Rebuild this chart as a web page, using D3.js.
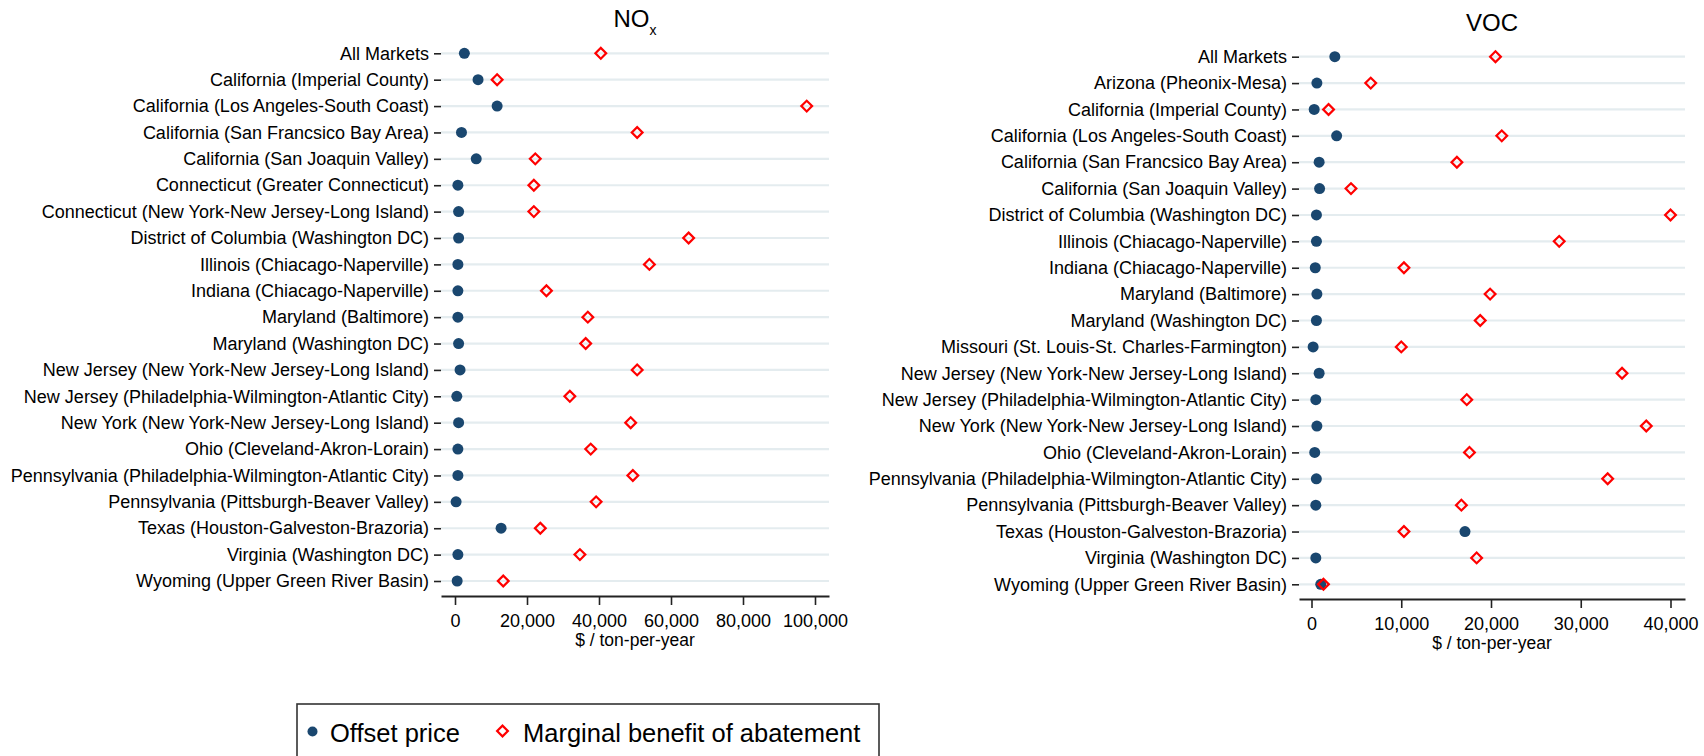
<!DOCTYPE html>
<html>
<head>
<meta charset="utf-8">
<script src="https://cdn.jsdelivr.net/npm/d3@7"></script>
<style>
  html, body { margin: 0; padding: 0; background: #fff; }
  svg { display: block; font-family: "Liberation Sans", Arial, Helvetica, sans-serif; }
</style>
</head>
<body>
<svg id="chart" width="1704" height="756"></svg>
<script>
// ---- NOx markets ----
const noxCategories = [
  "All Markets",
  "California (Imperial County)",
  "California (Los Angeles-South Coast)",
  "California (San Francsico Bay Area)",
  "California (San Joaquin Valley)",
  "Connecticut (Greater Connecticut)",
  "Connecticut (New York-New Jersey-Long Island)",
  "District of Columbia (Washington DC)",
  "Illinois (Chiacago-Naperville)",
  "Indiana (Chiacago-Naperville)",
  "Maryland (Baltimore)",
  "Maryland (Washington DC)",
  "New Jersey (New York-New Jersey-Long Island)",
  "New Jersey (Philadelphia-Wilmington-Atlantic City)",
  "New York (New York-New Jersey-Long Island)",
  "Ohio (Cleveland-Akron-Lorain)",
  "Pennsylvania (Philadelphia-Wilmington-Atlantic City)",
  "Pennsylvania (Pittsburgh-Beaver Valley)",
  "Texas (Houston-Galveston-Brazoria)",
  "Virginia (Washington DC)",
  "Wyoming (Upper Green River Basin)"
];
const noxOffsetPrice = [2600, 6400, 11700, 1800, 5900, 800, 1000, 1000, 800, 800, 800, 1000, 1400, 500, 1000, 800, 800, 300, 12800, 800, 600];
const noxMarginalBenefit = [40500, 11700, 97700, 50600, 22300, 21900, 21900, 64900, 54000, 25400, 36900, 36300, 50600, 31900, 48800, 37700, 49400, 39200, 23700, 34700, 13400];
const noxTicks = [0, 20000, 40000, 60000, 80000, 100000];

// ---- VOC markets ----
const vocCategories = [
  "All Markets",
  "Arizona (Pheonix-Mesa)",
  "California (Imperial County)",
  "California (Los Angeles-South Coast)",
  "California (San Francsico Bay Area)",
  "California (San Joaquin Valley)",
  "District of Columbia (Washington DC)",
  "Illinois (Chiacago-Naperville)",
  "Indiana (Chiacago-Naperville)",
  "Maryland (Baltimore)",
  "Maryland (Washington DC)",
  "Missouri (St. Louis-St. Charles-Farmington)",
  "New Jersey (New York-New Jersey-Long Island)",
  "New Jersey (Philadelphia-Wilmington-Atlantic City)",
  "New York (New York-New Jersey-Long Island)",
  "Ohio (Cleveland-Akron-Lorain)",
  "Pennsylvania (Philadelphia-Wilmington-Atlantic City)",
  "Pennsylvania (Pittsburgh-Beaver Valley)",
  "Texas (Houston-Galveston-Brazoria)",
  "Virginia (Washington DC)",
  "Wyoming (Upper Green River Basin)"
];
const vocOffsetPrice = [2600, 600, 300, 2800, 850, 900, 550, 550, 420, 600, 550, 180, 850, 480, 600, 360, 540, 480, 17100, 480, 1030];
const vocMarginalBenefit = [20500, 6600, 1900, 21200, 16200, 4400, 40000, 27600, 10300, 19900, 18800, 10000, 34600, 17300, 37300, 17600, 33000, 16700, 10300, 18400, 1330];
const vocTicks = [0, 10000, 20000, 30000, 40000];

const axisTitle = "$ / ton-per-year";
const legendLabels = ["Offset price", "Marginal benefit of abatement"];

const DOT_COLOR = "#1a476f";
const DIAMOND_COLOR = "#ff0000";
const GRID_COLOR = "#e4ecef";
const AXIS_COLOR = "#222";

const svg = d3.select("#chart");
const fmt = d3.format(",");
const diamondPath = d3.symbol(d3.symbolSquare, 58)();

function drawPanel(cfg) {
  const g = svg.append("g");
  const x = d3.scaleLinear().domain(cfg.xDomain).range([cfg.left, cfg.right]);
  const y = d3.scalePoint().domain(cfg.categories).range([cfg.top, cfg.bottom]);

  // horizontal gridlines, one per market
  g.append("g").selectAll("line")
    .data(cfg.categories)
    .join("line")
    .attr("x1", cfg.left).attr("x2", cfg.right)
    .attr("y1", d => y(d)).attr("y2", d => y(d))
    .attr("stroke", GRID_COLOR).attr("stroke-width", 2.2);

  // category axis
  const yAxis = g.append("g")
    .attr("transform", `translate(${cfg.left},0)`)
    .call(d3.axisLeft(y).tickSize(7).tickPadding(5));
  yAxis.select(".domain").remove();
  yAxis.selectAll(".tick line").attr("stroke", AXIS_COLOR).attr("stroke-width", 1.6);
  yAxis.selectAll(".tick text")
    .attr("font-family", "Liberation Sans, Arial, sans-serif")
    .attr("font-size", 18).attr("fill", "#000");

  // value axis
  const xAxis = g.append("g")
    .attr("transform", `translate(0,${cfg.axisY})`)
    .call(d3.axisBottom(x).tickValues(cfg.ticks).tickFormat(fmt)
      .tickSize(9).tickSizeOuter(0).tickPadding(9));
  xAxis.select(".domain").attr("stroke", AXIS_COLOR).attr("stroke-width", 1.8);
  xAxis.selectAll(".tick line").attr("stroke", AXIS_COLOR).attr("stroke-width", 1.6);
  xAxis.selectAll(".tick text")
    .attr("font-family", "Liberation Sans, Arial, sans-serif")
    .attr("font-size", 18).attr("fill", "#000");

  g.append("text")
    .attr("x", (cfg.left + cfg.right) / 2)
    .attr("y", cfg.axisY + 50)
    .attr("text-anchor", "middle")
    .attr("font-size", 17.5)
    .text(axisTitle);

  // offset prices
  g.append("g").selectAll("circle")
    .data(cfg.categories)
    .join("circle")
    .attr("cx", (d, i) => x(cfg.offset[i]))
    .attr("cy", d => y(d))
    .attr("r", 5.5)
    .attr("fill", DOT_COLOR);

  // marginal benefits
  g.append("g").selectAll("path")
    .data(cfg.categories)
    .join("path")
    .attr("d", diamondPath)
    .attr("transform", (d, i) => `translate(${x(cfg.benefit[i])},${y(d)}) rotate(45)`)
    .attr("fill", "none")
    .attr("stroke", DIAMOND_COLOR)
    .attr("stroke-width", 2.2);

  return g;
}

// NOx panel
const nox = drawPanel({
  categories: noxCategories,
  offset: noxOffsetPrice,
  benefit: noxMarginalBenefit,
  ticks: noxTicks,
  xDomain: [-3890, 103890],
  left: 441, right: 829,
  top: 53.3, bottom: 581,
  axisY: 596
});
const noxTitle = nox.append("text")
  .attr("x", 635).attr("y", 26.8)
  .attr("text-anchor", "middle")
  .attr("font-size", 24);
noxTitle.append("tspan").text("NO");
noxTitle.append("tspan").attr("font-size", 14).attr("dy", 8).text("x");

// VOC panel
const voc = drawPanel({
  categories: vocCategories,
  offset: vocOffsetPrice,
  benefit: vocMarginalBenefit,
  ticks: vocTicks,
  xDomain: [-1393, 41616],
  left: 1299, right: 1685,
  top: 56.7, bottom: 584.3,
  axisY: 599
});
voc.append("text")
  .attr("x", 1492).attr("y", 30.5)
  .attr("text-anchor", "middle")
  .attr("font-size", 24)
  .text("VOC");

// legend
const legend = svg.append("g");
legend.append("rect")
  .attr("x", 297).attr("y", 704)
  .attr("width", 582).attr("height", 80)
  .attr("fill", "#fff")
  .attr("stroke", "#333").attr("stroke-width", 1.6);
legend.append("circle")
  .attr("cx", 312.5).attr("cy", 731.5).attr("r", 5)
  .attr("fill", DOT_COLOR);
legend.append("text")
  .attr("x", 330).attr("y", 742)
  .attr("font-size", 25.5)
  .text(legendLabels[0]);
legend.append("path")
  .attr("d", d3.symbol(d3.symbolSquare, 58)())
  .attr("transform", "translate(502.5,731) rotate(45)")
  .attr("fill", "none")
  .attr("stroke", DIAMOND_COLOR)
  .attr("stroke-width", 2.2);
legend.append("text")
  .attr("x", 523).attr("y", 742)
  .attr("font-size", 25.5)
  .text(legendLabels[1]);
</script>
</body>
</html>
